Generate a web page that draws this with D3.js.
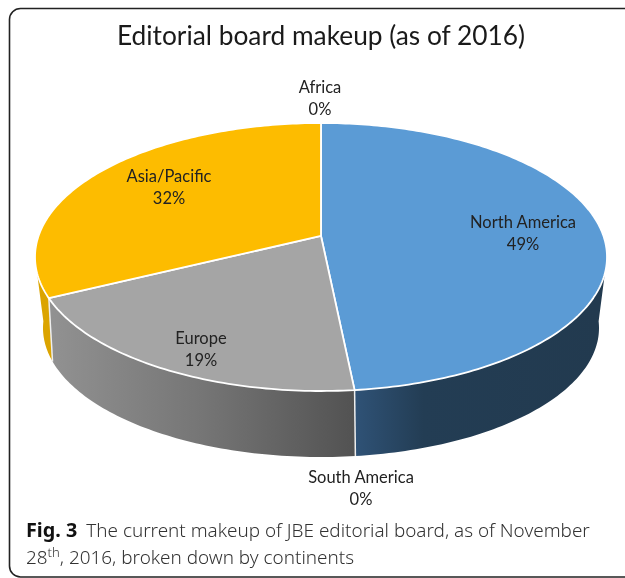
<!DOCTYPE html>
<html>
<head>
<meta charset="utf-8">
<script src="https://cdn.jsdelivr.net/npm/d3@7"></script>
<style>
  html, body { margin: 0; padding: 0; background: #fff; }
  svg { display: block; filter: blur(0.35px); }
  .lbl { font-family: Lato, sans-serif; font-size: 16.5px; fill: #222; text-anchor: middle; }
</style>
</head>
<body>
<script>
var continents = ["North America", "South America", "Europe", "Asia/Pacific", "Africa"];
var shares = [48.4, 0, 19.3, 32.3, 0];
var shareLabels = ["49%", "0%", "19%", "32%", "0%"];
var chartTitle = "Editorial board makeup (as of 2016)";

var width = 625, height = 578;

var topColor = ["#5b9bd5", "#5b9bd5", "#a5a5a5", "#fdbc00", "#fdbc00"];
var wallStops = [
  ["#2f5276", "#233d54", "#223a4f"],
  null,
  ["#919191", "#757575", "#525252"],
  ["#dba400", "#dba400", "#dba400"],
  null
];
var wallOffsets = [[0, 0.28, 1], null, [0, 0.5, 1], [0, 0.5, 1], null];
var labelPos = [[523, 222], [361, 477], [201, 338], [169, 176], [320, 87]];

var svg = d3.select("body").append("svg")
    .attr("width", width)
    .attr("height", height);

// outer frame, runs off the page right and bottom
svg.append("rect")
    .attr("x", 9.5).attr("y", 8.5)
    .attr("width", 680).attr("height", 568.5)
    .attr("rx", 11)
    .attr("fill", "none")
    .attr("stroke", "#222")
    .attr("stroke-width", 1.6);

svg.append("text")
    .attr("x", 321).attr("y", 45)
    .attr("text-anchor", "middle")
    .style("font-family", "Lato, sans-serif")
    .style("font-size", "26.3px")
    .style("fill", "#1a1a1a")
    .text(chartTitle);

// the disc in perspective: each rim is an ellipse, with the hub above its centre
var cx = 321;
var topRim = {rx: 286, ry: 134, cy: 257, k: 0.157};
var lowRimE = {rx: 278, ry: 129, cy: 328, k: 0.207};

function project(a, r, e) {
  var d = 1 + e.k * r * Math.cos(a);
  return [
    cx + e.rx * Math.sqrt(1 - e.k * e.k) * r * Math.sin(a) / d,
    e.cy - e.ry * e.k - e.ry * (1 - e.k * e.k) * r * Math.cos(a) / d
  ];
}
function rim(a) { return project(a, 1, topRim); }
function lowRim(a) { return project(a, 1, lowRimE); }

var arcs = d3.pie().sort(null)(shares);
var line = d3.line();
var visFrom = Math.PI - Math.acos(topRim.k), visTo = Math.PI + Math.acos(topRim.k);

var defs = svg.append("defs");

function sweep(a0, a1) {
  var n = Math.max(2, Math.ceil((a1 - a0) * 60));
  return d3.range(n + 1).map(function(i) { return a0 + (a1 - a0) * i / n; });
}

// side walls
arcs.forEach(function(d, i) {
  var a0 = Math.max(d.startAngle, visFrom), a1 = Math.min(d.endAngle, visTo);
  if (a1 <= a0 || !wallStops[i]) return;
  var pts = sweep(a0, a1);
  var grad = defs.append("linearGradient")
      .attr("id", "wall" + i)
      .attr("gradientUnits", "userSpaceOnUse")
      .attr("x1", d3.min(pts, function(a) { return lowRim(a)[0]; }))
      .attr("x2", d3.max(pts, function(a) { return lowRim(a)[0]; }))
      .attr("y1", 0).attr("y2", 0);
  wallStops[i].forEach(function(c, j) {
    grad.append("stop").attr("offset", wallOffsets[i][j]).attr("stop-color", c);
  });
  var outline = pts.map(rim).concat(pts.slice().reverse().map(lowRim));
  svg.append("path")
      .attr("d", line(outline) + "Z")
      .attr("fill", "url(#wall" + i + ")");
});

// seams on the wall
arcs.forEach(function(d) {
  if (d.startAngle < visFrom || d.startAngle > visTo || d.value === 0) return;
  svg.append("path")
      .attr("d", line([rim(d.startAngle), lowRim(d.startAngle)]))
      .attr("stroke", "#eee")
      .attr("stroke-width", 1.5)
      .attr("fill", "none");
});

// top face
arcs.forEach(function(d, i) {
  if (d.value === 0) return;
  var outline = [project(0, 0, topRim)].concat(sweep(d.startAngle, d.endAngle).map(rim));
  svg.append("path")
      .attr("d", line(outline) + "Z")
      .attr("fill", topColor[i])
      .attr("stroke", "#fff")
      .attr("stroke-width", 1.8)
      .attr("stroke-linejoin", "round");
});

// labels
continents.forEach(function(name, i) {
  svg.append("text").attr("class", "lbl")
      .attr("x", labelPos[i][0]).attr("y", labelPos[i][1] + 6)
      .text(name);
  svg.append("text").attr("class", "lbl")
      .attr("x", labelPos[i][0]).attr("y", labelPos[i][1] + 28)
      .text(shareLabels[i]);
});

// figure caption
var cap = svg.append("g")
    .style("font-family", "'Noto Sans', sans-serif")
    .style("font-size", "18.9px")
    .style("font-weight", "300")
    .style("fill", "#333");
var line1 = cap.append("text").attr("x", 26).attr("y", 537);
line1.append("tspan").style("font-weight", "700").style("font-size", "19.8px").style("fill", "#111").text("Fig. 3");
line1.append("tspan").attr("dx", 9).text("The current makeup of JBE editorial board, as of November");
var line2 = cap.append("text").attr("x", 26).attr("y", 564);
line2.append("tspan").text("28");
line2.append("tspan").attr("dy", -7).style("font-size", "13px").text("th");
line2.append("tspan").attr("dy", 7).text(", 2016, broken down by continents");
</script>
</body>
</html>
